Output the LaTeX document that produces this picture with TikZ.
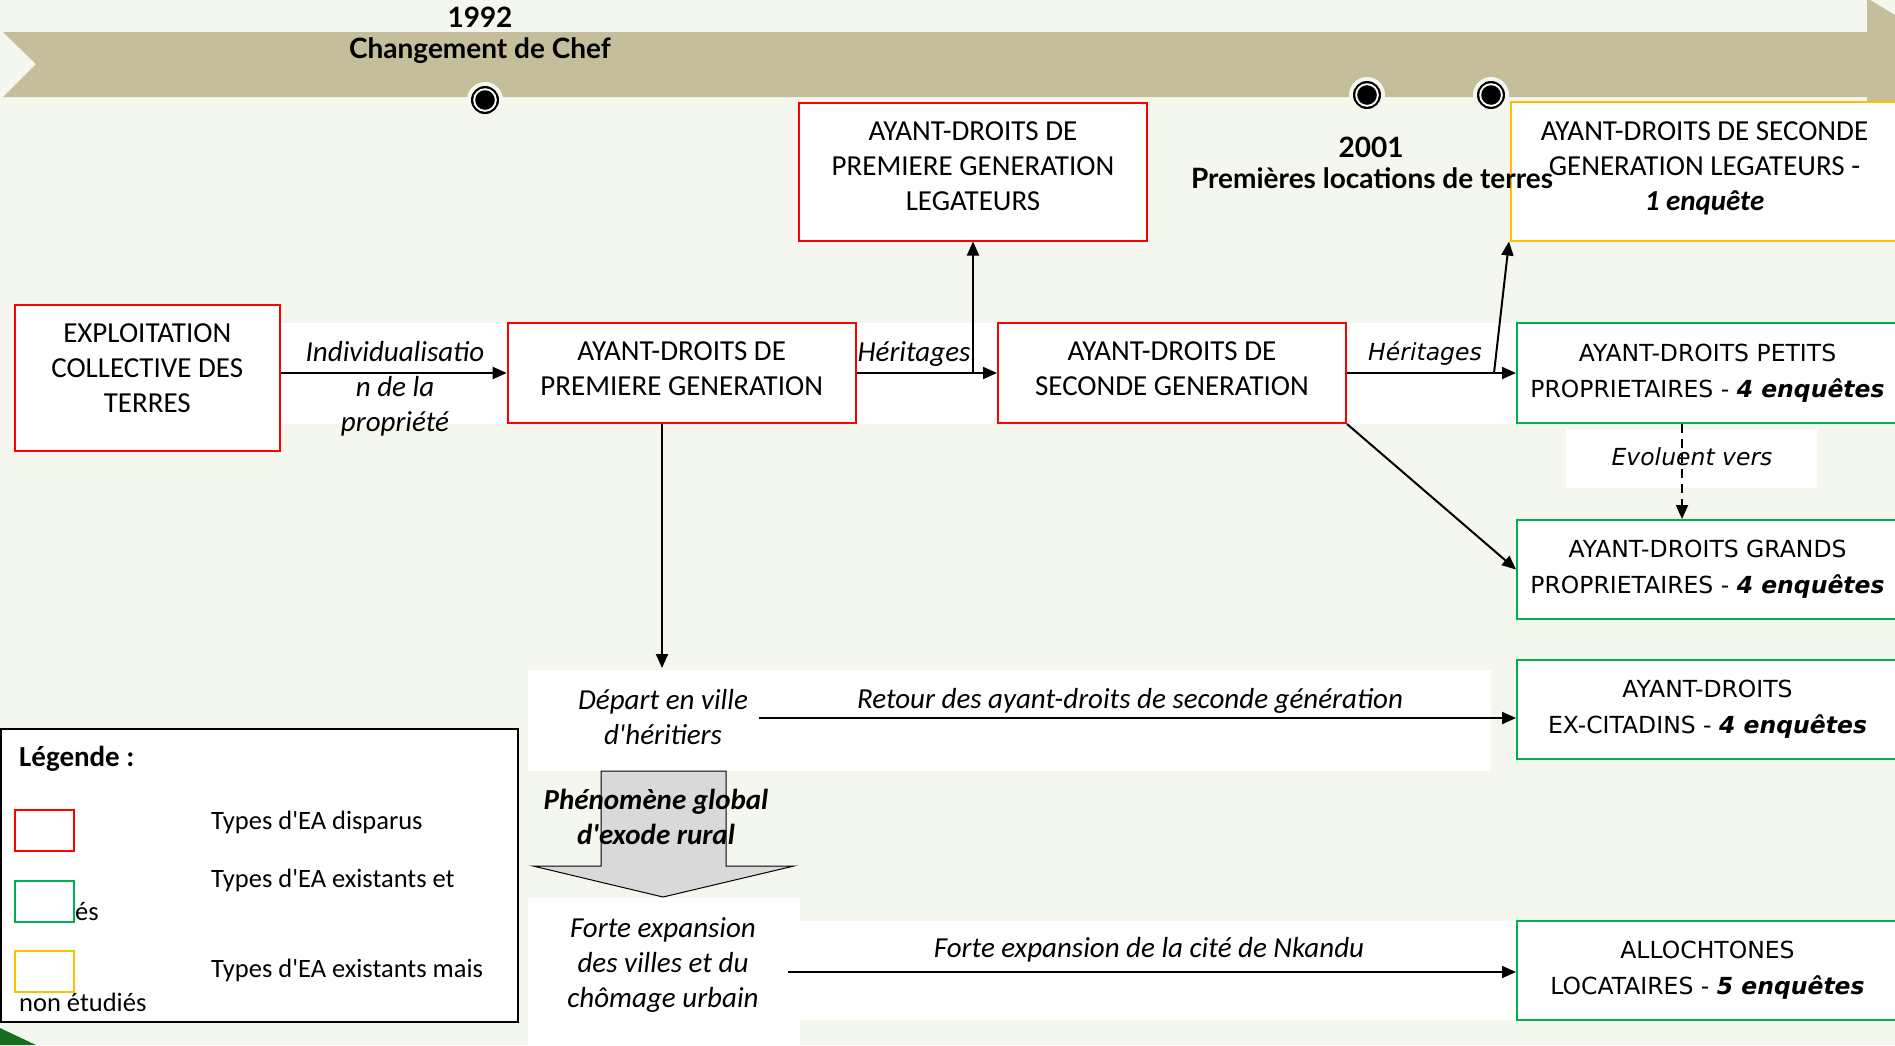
\documentclass[tikz,border=0pt]{standalone}
\usepackage{fontspec}
\setmainfont{Carlito}
\newfontfamily\verd{DejaVu Sans}
\newfontfamily\gill{Lato}
\usetikzlibrary{arrows.meta}
\newcommand\ap{\textquotesingle}
\definecolor{bgc}{RGB}{244,247,238}
\definecolor{band}{RGB}{197,190,154}
\definecolor{myred}{RGB}{255,0,0}
\definecolor{mygreen}{RGB}{0,176,80}
\definecolor{myyellow}{RGB}{255,192,0}
\definecolor{arrowgray}{RGB}{217,217,217}
\definecolor{dkgreen}{RGB}{20,110,30}
\begin{document}
\begin{tikzpicture}[x=1pt,y=-1pt,
  box/.style={draw, fill=white, line width=2pt, inner sep=0pt, align=center, font=\fontsize{29}{35}\selectfont},
  redbox/.style={box, draw=myred},
  greenbox/.style={box, draw=mygreen, font=\verd\fontsize{23.5}{36}\selectfont},
  yelbox/.style={box, draw=myyellow},
  arr/.style={line width=2pt, -{Triangle[length=14pt,width=12pt]}},
  lbl/.style={inner sep=0pt, align=center, font=\itshape\fontsize{29}{35}\selectfont},
  vlbl/.style={inner sep=0pt, align=center, font=\verd\itshape\fontsize{23.5}{36}\selectfont},
  tl/.style={inner sep=0pt, align=center, font=\gill\bfseries\fontsize{28}{33}\selectfont},
  leg/.style={inner sep=0pt, anchor=west, font=\fontsize{26.5}{32}\selectfont},
  legsq/.style={draw, fill=white, line width=2pt, minimum width=59.5pt, minimum height=41pt, inner sep=0pt},
]
\useasboundingbox (0,0) rectangle (1895,1045);
\clip (0,0) rectangle (1895,1045);
\fill[bgc] (0,0) rectangle (1895,1045);
% timeline band
\fill[band] (3,32) -- (1867,32) -- (1867,-2) -- (1975,64) -- (1867,130) -- (1867,97) -- (3,97) -- (36,64) -- cycle;
% timeline dots
\foreach \n/\px/\py in {d1/485/100,d2/1367/95,d3/1491/95}{
  \fill[bgc] (\px,\py) circle[radius=18pt];
  \fill[black] (\px,\py) circle[radius=14pt];
  \fill[white] (\px,\py) circle[radius=11.8pt];
  \fill[black] (\px,\py) circle[radius=9.8pt];
  \coordinate (\n) at (\px,\py);
}
% white label bands
\fill[white] (280,323) rectangle (1517,424);
\fill[white] (1566,429) rectangle (1817,488);
\fill[white] (528,670) rectangle (1491,771);
\fill[white] (528,898) rectangle (800,1045);
\fill[white] (800,921) rectangle (1517,1020);
% boxes
\node[redbox, minimum width=265.5pt, minimum height=146.5pt, text depth=19pt] (ex) at (147.25,377.75) {EXPLOITATION\\COLLECTIVE DES\\TERRES};
\node[redbox, minimum width=348pt, minimum height=100pt, text depth=9pt] (p1) at (681.7,373) {AYANT-DROITS DE\\PREMIERE GENERATION};
\node[redbox, minimum width=348pt, minimum height=137.5pt, text depth=12pt] (p1l) at (973,171.75) {AYANT-DROITS DE\\PREMIERE GENERATION\\LEGATEURS};
\node[redbox, minimum width=348pt, minimum height=100pt, text depth=9pt] (s2) at (1172,373) {AYANT-DROITS DE\\SECONDE GENERATION};
\node[yelbox, minimum width=387pt, minimum height=139pt, text depth=10pt] (s2l) at (1704.5,171) {AYANT-DROITS DE SECONDE\\GENERATION LEGATEURS -\\\textbf{\textit{1 enquête}}};
\node[greenbox, minimum width=381pt, minimum height=100pt] (pp) at (1707.5,373) {AYANT-DROITS PETITS\\PROPRIETAIRES - \textbf{\textit{4 enquêtes}}};
\node[greenbox, minimum width=381pt, minimum height=99pt] (gp) at (1707.5,569.5) {AYANT-DROITS GRANDS\\PROPRIETAIRES - \textbf{\textit{4 enquêtes}}};
\node[greenbox, minimum width=381pt, minimum height=99pt] (ec) at (1707.5,709.5) {AYANT-DROITS\\EX-CITADINS - \textbf{\textit{4 enquêtes}}};
\node[greenbox, minimum width=381pt, minimum height=99pt] (al) at (1707.5,970.5) {ALLOCHTONES\\LOCATAIRES - \textbf{\textit{5 enquêtes}}};
% timeline texts (drawn over boxes)
\node[tl] (y1992) at (480,17) {1992};
\node[tl] (chef) at (480,51) {Changement de Chef};
\node[tl] (y2001) at (1371,147) {2001};
\node[tl] (loc) at (1372,178) {Premières locations de terres};
% block arrow
\draw[fill=arrowgray, line width=1pt] (601,771) -- (726,771) -- (726,866) -- (794,866) -- (663,897) -- (533,866) -- (601,866) -- cycle;
% labels
\node[lbl] (indiv) at (395,389) {Individualisatio\\n de la\\propriété};
\node[lbl] (her1) at (914,354) {Héritages};
\node[vlbl] (her2) at (1425,354) {Héritages};
\node[vlbl] (evol) at (1692,457) {Evoluent vers};
\node[lbl] (dep) at (663,717) {Départ en ville\\d\ap héritiers};
\node[lbl] (ret) at (1130,701) {Retour des ayant-droits de seconde génération};
\node[lbl, font=\bfseries\itshape\fontsize{29}{35}\selectfont] (exode) at (656,817) {Phénomène global\\d\ap exode rural};
\node[lbl] (forte) at (663,965) {Forte expansion\\des villes et du\\chômage urbain};
\node[lbl] (nk) at (1149,950) {Forte expansion de la cité de Nkandu};
% connectors
\coordinate (b1) at (p1l.south |- p1.east);
\coordinate (b2) at (1494,373);
\coordinate (depin) at (662,668);
\coordinate (retstart) at (759,718);
\coordinate (nkstart) at (788,972);
\draw[arr] (ex.east |- p1.west) -- (p1.west);
\draw[arr] (p1.east) -- (s2.west);
\draw[arr] (b1) -- (p1l.south);
\draw[arr] (s2.east) -- (pp.west);
\draw[arr] (b2) -- ([xshift=-1pt]s2l.south west);
\draw[arr] (s2.south east) -- (gp.west);
\draw[arr, dash pattern=on 9pt off 6pt] ([xshift=-25.5pt]pp.south) -- ([xshift=-25.5pt]gp.north);
\draw[arr] (depin |- p1.south) -- (depin);
\draw[arr] (retstart) -- (ec.west |- retstart);
\draw[arr] (nkstart) -- (al.west |- nkstart);
% legend
\node[draw=black, fill=white, line width=2pt, minimum width=517pt, minimum height=293pt, inner sep=0pt] (legend) at (259.75,875.75) {};
\node[legsq, draw=myred] (lr) at (44.25,830.5) {};
\node[legsq, draw=mygreen] (lg) at (44.25,901.5) {};
\node[legsq, draw=myyellow] (ly) at (44.25,971) {};
\node[leg, font=\bfseries\fontsize{29}{35}\selectfont] (legt) at (19,759) {Légende :};
\node[leg] (t1) at (211,822) {Types d\ap EA disparus};
\node[leg] (t2) at (211,880) {Types d\ap EA existants et};
\node[leg] (t2b) at (75,912) {és};
\node[leg] (t3) at (211,970) {Types d\ap EA existants mais};
\node[leg] (t3b) at (19,1002) {non étudiés};
\fill[dkgreen] (0,1028) -- (36,1045) -- (0,1045) -- cycle;
\end{tikzpicture}
\end{document}
